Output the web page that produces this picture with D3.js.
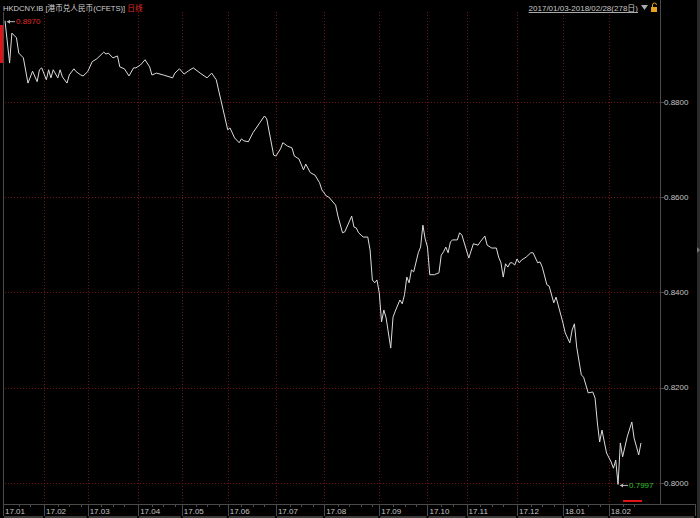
<!DOCTYPE html>
<html>
<head>
<meta charset="utf-8">
<title>HKDCNY.IB</title>
<script src="https://cdn.jsdelivr.net/npm/d3@7"></script>
<style>
body { margin: 0; background: #000; }
svg { display: block; font-family: "Liberation Sans", Arial, "Noto Sans CJK SC", sans-serif; }
.grid line { stroke: #6e1414; stroke-width: 1; stroke-dasharray: 1,2; shape-rendering: crispEdges; }
.axisTxt { fill: #c4c4c4; font-size: 8px; }
.frame { stroke: #4a4a4a; stroke-width: 1; shape-rendering: crispEdges; }
.rateLine { fill: none; stroke: #dcdcdc; stroke-width: 1; }
</style>
</head>
<body>
<script>

// trading-day index (0..277) and closing rate
var dayIdx = [0,2,3,5,6,8,10,12,14,15,16,18,19,20,21,23,24,25,27,28,30,31,33,34,36,38,40,43,44,45,47,49,50,52,54,56,57,59,61,63,64,66,69,73,74,76,78,80,82,85,88,90,92,94,97,98,
  100,102,103,104,106,108,110,111,113,114,117,118,120,121,123,125,126,128,130,131,133,135,137,138,140,141,144,145,147,148,151,152,153,154,156,158,159,160,161,162,163,164,165,166,168,169,170,172,173,174,175,176,177,178,180,181,182,183,184,185,187,189,190,191,192,193,194,195,197,198,199,
  202,204,206,207,209,210,212,214,215,216,217,218,219,220,221,222,223,224,225,227,229,230,232,233,234,236,237,239,240,243,244,246,247,248,249,251,252,254,256,257,258,259,260,262,264,265,266,267,268,269,271,273,274,276,277];
var rate = [0.8970,0.8881,0.8944,0.8934,0.8902,0.8892,0.8839,0.8864,0.8842,0.8867,0.8871,0.8846,0.8867,0.8850,0.8867,0.8850,0.8867,0.8852,0.8839,0.8856,0.8869,0.8863,0.8856,0.8854,0.8863,0.8884,0.8890,0.8904,0.8900,0.8902,0.8892,0.8896,0.8873,0.8869,0.8854,0.8871,0.8871,0.8877,0.8888,0.8873,0.8856,0.8860,0.8856,0.8850,0.8860,0.8869,0.8858,0.8865,0.8871,0.8860,0.8850,0.8860,0.8846,0.8804,0.8741,0.8745,
  0.8724,0.8714,0.8722,0.8718,0.8716,0.8735,0.8749,0.8756,0.8770,0.8764,0.8688,0.8686,0.8701,0.8714,0.8707,0.8703,0.8686,0.8680,0.8657,0.8669,0.8651,0.8646,0.8630,0.8615,0.8602,0.8600,0.8583,0.8560,0.8525,0.8527,0.8560,0.8537,0.8535,0.8525,0.8516,0.8516,0.8489,0.8426,0.8420,0.8426,0.8399,0.8338,0.8363,0.8346,0.8283,0.8348,0.8361,0.8384,0.8376,0.8395,0.8432,0.8420,0.8447,0.8443,0.8483,0.8495,0.8541,0.8512,0.8495,0.8437,0.8437,0.8441,0.8478,0.8485,0.8495,0.8483,0.8506,0.8510,0.8510,0.8525,0.8520,
  0.8472,0.8502,0.8499,0.8506,0.8518,0.8499,0.8493,0.8493,0.8474,0.8462,0.8432,0.8460,0.8453,0.8462,0.8462,0.8457,0.8470,0.8462,0.8468,0.8474,0.8483,0.8483,0.8462,0.8464,0.8453,0.8416,0.8413,0.8378,0.8390,0.8336,0.8315,0.8294,0.8321,0.8334,0.8285,0.8227,0.8222,0.8189,0.8191,0.8178,0.8126,0.8086,0.8111,0.8063,0.8044,0.8031,0.8048,0.7997,0.8084,0.8055,0.8097,0.8128,0.8094,0.8059,0.8084];

var monthLabels = ["17.01","17.02","17.03","17.04","17.05","17.06","17.07","17.08","17.09","17.10","17.11","17.12","18.01","18.02"];
var monthStart  = [0,17,36,58,77,97,118,139,163,184,201,223,243,263];
var yTicks = [0.80, 0.82, 0.84, 0.86, 0.88];
var totalDays = 278;

var W = 700, H = 518;
var plotL = 3, plotR = 660, plotT = 12, plotB = 504;

var x = d3.scaleLinear().domain([0, totalDays - 1]).range([5, 641]);
var y = d3.scaleLinear().domain([0.80, 0.88]).range([483, 101.7]);

var data = dayIdx.map(function(d, i) { return {i: d, v: rate[i]}; });

var svg = d3.select("body").append("svg")
  .attr("width", W)
  .attr("height", H);

svg.append("rect").attr("width", W).attr("height", H).attr("fill", "#000");

// grid
var grid = svg.append("g").attr("class", "grid");
grid.selectAll(".hg").data(yTicks).enter().append("line")
  .attr("x1", plotL + 2).attr("x2", plotR)
  .attr("y1", function(d) { return Math.round(y(d)) + 0.5; })
  .attr("y2", function(d) { return Math.round(y(d)) + 0.5; });
grid.selectAll(".vg").data(monthStart.slice(1)).enter().append("line")
  .attr("x1", function(d) { return Math.round(x(d)) + 0.5; })
  .attr("x2", function(d) { return Math.round(x(d)) + 0.5; })
  .attr("y1", plotT).attr("y2", plotB);

// frame lines
svg.append("line").attr("class", "frame").attr("x1", plotL + 0.5).attr("x2", plotL + 0.5).attr("y1", plotT).attr("y2", 516);
svg.append("line").attr("class", "frame").attr("x1", plotR + 0.5).attr("x2", plotR + 0.5).attr("y1", 0).attr("y2", plotB);
svg.append("line").attr("class", "frame").attr("x1", plotL).attr("x2", 696).attr("y1", plotB + 0.5).attr("y2", plotB + 0.5);
svg.append("line").attr("class", "frame").attr("x1", 695.5).attr("x2", 695.5).attr("y1", plotB).attr("y2", 516);
svg.append("rect").attr("x", 697).attr("y", 0).attr("width", 3).attr("height", H).attr("fill", "#2a2a2a");
svg.append("path").attr("d", "M697,247 L700,250 L697,253 Z").attr("fill", "#777");

// y axis
var yAxis = svg.append("g");
yAxis.selectAll("line").data(yTicks).enter().append("line")
  .attr("class", "frame")
  .attr("x1", plotR).attr("x2", plotR + 4)
  .attr("y1", function(d) { return Math.round(y(d)) + 0.5; })
  .attr("y2", function(d) { return Math.round(y(d)) + 0.5; });
yAxis.selectAll("text").data(yTicks).enter().append("text")
  .attr("class", "axisTxt")
  .attr("x", plotR + 4)
  .attr("y", function(d) { return y(d); })
  .attr("dy", "0.35em")
  .text(function(d) { return d.toFixed(4); });

// x axis
var xAxis = svg.append("g");
var minor = [];
monthStart.forEach(function(s, k) {
  var e = k < monthStart.length - 1 ? monthStart[k + 1] : totalDays;
  for (var t = s + 6; t < e - 2; t += 5) minor.push(t);
});
xAxis.selectAll(".mt").data(minor).enter().append("line")
  .attr("class", "frame")
  .attr("x1", function(d) { return Math.round(x(d)) + 0.5; })
  .attr("x2", function(d) { return Math.round(x(d)) + 0.5; })
  .attr("y1", plotB).attr("y2", plotB + 3);
xAxis.selectAll(".sep").data(monthStart.slice(1)).enter().append("line")
  .attr("class", "frame")
  .attr("x1", function(d) { return Math.round(x(d)) + 0.5; })
  .attr("x2", function(d) { return Math.round(x(d)) + 0.5; })
  .attr("y1", plotB).attr("y2", 516);
xAxis.selectAll("text").data(monthLabels).enter().append("text")
  .attr("class", "axisTxt")
  .attr("x", function(d, i) { return (i === 0 ? plotL : x(monthStart[i])) + 2; })
  .attr("y", 514)
  .text(function(d) { return d; });

// navigator strip
svg.selectAll(".nav").data(monthStart).enter().append("rect")
  .attr("x", function(d, i) { return (i === 0 ? plotL : x(d)) + 1; })
  .attr("width", function(d, i) {
    var e = i < monthStart.length - 1 ? x(monthStart[i + 1]) : 695;
    return Math.max(0, e - (i === 0 ? plotL : x(d)) - 2);
  })
  .attr("y", 516).attr("height", 2)
  .attr("fill", "#3c3c3c");

// left marker
svg.append("rect").attr("x", 0).attr("y", 25).attr("width", 3).attr("height", 38).attr("fill", "#e01414");

// price line
var line = d3.line()
  .x(function(d) { return x(d.i); })
  .y(function(d) { return y(d.v); });
svg.append("path").datum(data).attr("class", "rateLine").attr("d", line);

// max / min markers
var maxD = data.reduce(function(a, b) { return b.v > a.v ? b : a; });
var minD = data.reduce(function(a, b) { return b.v < a.v ? b : a; });

function marker(d, color, dy) {
  var px = x(d.i) + 2, py = y(d.v) + dy;
  svg.append("line").attr("x1", px).attr("x2", px + 8).attr("y1", py).attr("y2", py)
    .attr("stroke", "#bbb").attr("stroke-width", 1);
  svg.append("path").attr("d", "M" + px + "," + py + " l3,-2 l0,4 Z").attr("fill", "#bbb");
  svg.append("text").attr("x", px + 9).attr("y", py).attr("dy", "0.35em")
    .attr("fill", color).style("font-size", "8px").text(d.v.toFixed(4));
}
marker(maxD, "#e02a2a", 1);
marker(minD, "#2ec02e", 1);

svg.append("rect").attr("x", 623).attr("y", 500).attr("width", 19).attr("height", 2)
  .attr("fill", "#e01414").attr("shape-rendering", "crispEdges");

// header
var hdr = svg.append("text").attr("x", 3).attr("y", 11).style("font-size", "7.6px");
hdr.append("tspan").attr("fill", "#d0d0d0").text("HKDCNY.IB [港币兑人民币(CFETS)] ");
hdr.append("tspan").attr("fill", "#e02a2a").text("日线");

svg.append("text").attr("x", 638).attr("y", 11).attr("text-anchor", "end")
  .attr("fill", "#c8c8c8").style("font-size", "8px").style("text-decoration", "underline")
  .text("2017/01/03-2018/02/28(278日)");
svg.append("line").attr("x1", 530).attr("x2", 638).attr("y1", 12.5).attr("y2", 12.5).attr("stroke", "#aaa");
svg.append("path").attr("d", "M641,5 L648,5 L644.5,10 Z").attr("fill", "#aaa");
svg.append("rect").attr("x", 651).attr("y", 7).attr("width", 6).attr("height", 5).attr("fill", "#e8a020");
svg.append("path").attr("d", "M652.5,7 v-2 a2,2 0 0 1 4,0").attr("fill", "none").attr("stroke", "#e8a020").attr("stroke-width", 1);

</script>
</body>
</html>
